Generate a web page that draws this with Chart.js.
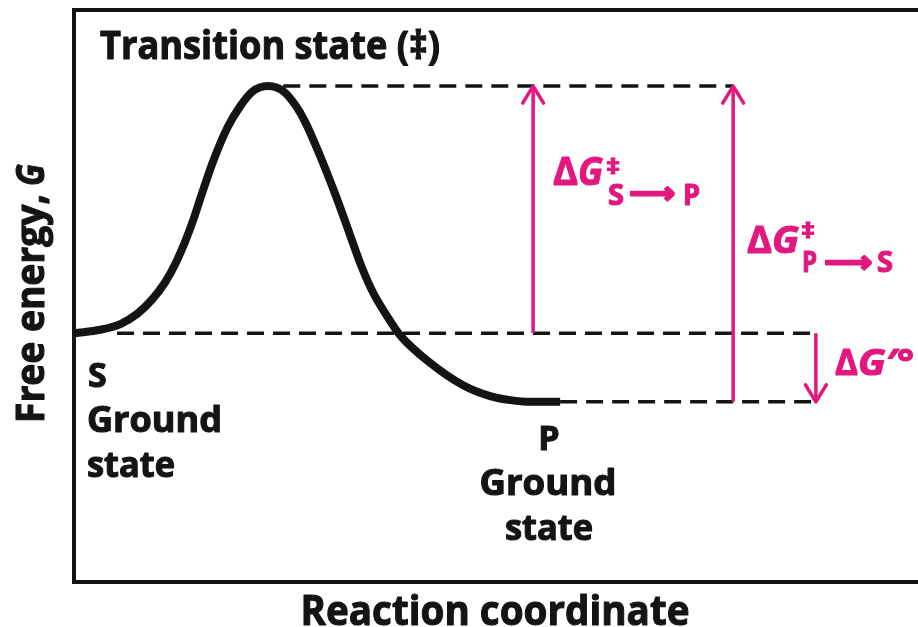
<!DOCTYPE html>
<html>
<head>
<meta charset="utf-8">
<script src="https://cdn.jsdelivr.net/npm/chart.js@4.4.1/dist/chart.umd.min.js"></script>
<style>
  body { margin: 0; background: #fff; }
  #wrap { width: 918px; height: 627px; }
</style>
</head>
<body>
<div id="wrap"><canvas id="myChart"></canvas></div>
<script>
// reaction coordinate (0-100 across the box) and free energy (0-100 up the box)
const reactionX = [0.1, 3.1, 5.5, 7.5, 9.2, 10.8, 12.1, 13.3, 14.2, 15.0, 16.5, 18.2, 19.7, 21.1, 23.0,
                   24.9, 26.3, 27.4, 29.1, 30.9, 32.7, 34.0, 35.4, 37.0, 38.6, 42.2, 46.1, 49.3, 51.7, 54.0, 57.6];
const freeEnergy = [43.5, 44.1, 45.1, 46.9, 49.3, 52.4, 55.9, 60.0, 63.6, 67.2, 73.6, 79.5, 83.2, 85.7, 86.7,
                    85.7, 83.2, 80.4, 74.7, 68.0, 60.7, 55.4, 50.7, 46.7, 43.2, 38.3, 34.4, 32.5, 31.8, 31.5, 31.5];

// energy levels: S ground state, transition state, P ground state
const levelNames = ['S', 'TS', 'P'];
const levelValues = [43.5, 86.7, 31.5];
const guideFrom = [5.1, 24.8, 57.6];
const guideTo = [87.9, 78.1, 87.9];

// the three energy-difference arrows
const arrowNames = ['dG S->P', 'dG P->S', 'dG0'];
const arrowX = [54.4, 78.1, 87.9];
const arrowFrom = [43.5, 31.5, 43.5];
const arrowTo = [86.7, 86.7, 31.5];

const INK = '#141414';
const PINK = '#e2187f';

const datasets = [];
levelNames.forEach((name, i) => {
    datasets.push({
        label: name + ' level',
        data: [{ x: guideFrom[i], y: levelValues[i] }, { x: guideTo[i], y: levelValues[i] }],
        borderColor: INK,
        borderWidth: 3.5,
        borderDash: [17, 9],
        pointRadius: 0,
        order: 3
    });
});
datasets.push({
    label: 'Free energy',
    data: reactionX.map((x, i) => ({ x: x, y: freeEnergy[i] })),
    borderColor: INK,
    borderWidth: 8,
    cubicInterpolationMode: 'monotone',
    pointRadius: 0,
    order: 2
});
arrowNames.forEach((name, i) => {
    datasets.push({
        label: name,
        isArrow: true,
        data: [{ x: arrowX[i], y: arrowFrom[i] }, { x: arrowX[i], y: arrowTo[i] }],
        borderColor: PINK,
        borderWidth: 3.5,
        pointRadius: 0,
        order: 1
    });
});

// draw a bit of text, squeezed to a given width when asked, and a touch heavier
function drawText(ctx, s, x, y, o) {
    ctx.save();
    ctx.font = (o.italic ? 'italic ' : '') + 'bold ' + o.size + 'px ' + (o.family || '"Open Sans", sans-serif');
    ctx.fillStyle = o.color || INK;
    ctx.strokeStyle = o.color || INK;
    ctx.lineWidth = o.heavy == null ? 1.1 : o.heavy;
    ctx.lineJoin = 'round';
    ctx.textBaseline = 'alphabetic';
    const w = ctx.measureText(s).width;
    const sx = o.width ? o.width / w : 1;
    ctx.translate(x, y);
    ctx.scale(sx, 1);
    let dx = 0;
    if (o.align === 'center') dx = -w / 2;
    ctx.fillText(s, dx, 0);
    if (ctx.lineWidth > 0) ctx.strokeText(s, dx, 0);
    ctx.restore();
}

const framePlugin = {
    id: 'frame',
    beforeDatasetsDraw(chart) {
        const { ctx, chartArea: a } = chart;
        ctx.save();
        ctx.strokeStyle = INK;
        ctx.lineWidth = 4;
        ctx.beginPath();
        ctx.moveTo(chart.width + 5, a.top);
        ctx.lineTo(a.left, a.top);
        ctx.lineTo(a.left, a.bottom);
        ctx.lineTo(chart.width + 5, a.bottom);
        ctx.stroke();
        ctx.restore();
    }
};

const arrowPlugin = {
    id: 'arrowHeads',
    afterDatasetsDraw(chart) {
        const ctx = chart.ctx;
        chart.data.datasets.forEach((ds, i) => {
            if (!ds.isArrow) return;
            const pts = chart.getDatasetMeta(i).data;
            const tip = pts[pts.length - 1], prev = pts[pts.length - 2];
            const ang = Math.atan2(tip.y - prev.y, tip.x - prev.x);
            const len = 20, spread = 0.55;
            ctx.save();
            ctx.strokeStyle = ds.borderColor;
            ctx.lineWidth = 3.5;
            ctx.lineCap = 'round';
            ctx.lineJoin = 'round';
            ctx.beginPath();
            ctx.moveTo(tip.x - len * Math.cos(ang - spread), tip.y - len * Math.sin(ang - spread));
            ctx.lineTo(tip.x, tip.y);
            ctx.lineTo(tip.x - len * Math.cos(ang + spread), tip.y - len * Math.sin(ang + spread));
            ctx.stroke();
            ctx.restore();
        });
    }
};

const labelPlugin = {
    id: 'labels',
    afterDraw(chart) {
        const ctx = chart.ctx;
        drawText(ctx, 'Transition state (\u2021)', 100, 59, { size: 39, width: 340 });

        drawText(ctx, 'S', 88, 387, { size: 34 });
        drawText(ctx, 'Ground', 87, 432, { size: 35, width: 135 });
        drawText(ctx, 'state', 87, 477, { size: 35, width: 88 });

        drawText(ctx, 'P', 549, 450, { size: 34, align: 'center' });
        drawText(ctx, 'Ground', 548, 495, { size: 35, width: 137, align: 'center' });
        drawText(ctx, 'state', 549, 540, { size: 35, width: 88, align: 'center' });

        drawText(ctx, 'Reaction coordinate', 495, 625, { size: 42, width: 389, align: 'center' });

        // y title, rotated
        ctx.save();
        ctx.translate(44, 423);
        ctx.rotate(-Math.PI / 2);
        drawText(ctx, 'Free energy,', 0, 0, { size: 39, width: 229 });
        drawText(ctx, 'G', 237, 0, { size: 39, italic: true, width: 22 });
        ctx.restore();

        // pink labels
        const pk = { color: PINK };
        drawText(ctx, '\u0394', 553, 185, { ...pk, size: 39, width: 25 });
        drawText(ctx, 'G', 578, 185, { ...pk, size: 39, italic: true, width: 25 });
        drawText(ctx, '\u2021', 606, 174, { ...pk, size: 22, width: 14 });
        drawText(ctx, 'S', 608, 205, { ...pk, size: 28, width: 16 });
        drawText(ctx, '\u27F6', 629, 203, { ...pk, size: 30, width: 46, heavy: 2.2, family: '"DejaVu Sans", sans-serif' });
        drawText(ctx, 'P', 683, 205, { ...pk, size: 28, width: 17 });

        drawText(ctx, '\u0394', 747, 253, { ...pk, size: 37, width: 25 });
        drawText(ctx, 'G', 772, 253, { ...pk, size: 37, italic: true, width: 27 });
        drawText(ctx, '\u2021', 801, 238, { ...pk, size: 22, width: 14 });
        drawText(ctx, 'P', 802, 272, { ...pk, size: 28, width: 15 });
        drawText(ctx, '\u27F6', 824, 272, { ...pk, size: 30, width: 48, heavy: 2.2, family: '"DejaVu Sans", sans-serif' });
        drawText(ctx, 'S', 877, 272, { ...pk, size: 28, width: 16 });

        drawText(ctx, '\u0394', 835, 375, { ...pk, size: 35, width: 23 });
        drawText(ctx, 'G\u2032\u00B0', 858, 375, { ...pk, size: 35, italic: true, width: 56 });
    }
};

const ctx = document.getElementById('myChart').getContext('2d');
const myChart = new Chart(ctx, {
    type: 'line',
    data: { datasets: datasets },
    options: {
        responsive: true,
        maintainAspectRatio: false,
        devicePixelRatio: 1,
        animation: false,
        layout: { padding: { left: 74, top: 10, right: 0, bottom: 45 } },
        plugins: { legend: { display: false }, tooltip: { enabled: false } },
        elements: { line: { borderCapStyle: 'butt' } },
        scales: {
            x: { type: 'linear', min: 0, max: 100, display: false },
            y: { type: 'linear', min: 0, max: 100, display: false }
        }
    },
    plugins: [framePlugin, arrowPlugin, labelPlugin]
});
</script>
</body>
</html>
